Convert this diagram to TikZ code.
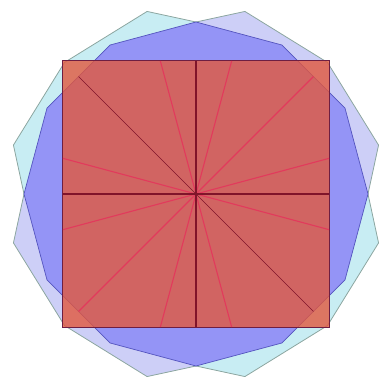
\documentclass[tikz,border=0pt]{standalone}
\usetikzlibrary{calc}
\definecolor{lavender}{RGB}{200,202,246}
\definecolor{paleCyan}{RGB}{194,235,242}
\definecolor{rimGray}{RGB}{140,166,160}
\definecolor{dodecBlue}{RGB}{148,148,246}
\definecolor{dodecRim}{RGB}{84,84,190}
\definecolor{sqRed}{RGB}{225,88,62}
\definecolor{sqRim}{RGB}{110,30,66}
\definecolor{rayPink}{RGB}{226,58,92}
\definecolor{rayDark}{RGB}{128,20,42}

\begin{document}
\begin{tikzpicture}[x=1pt, y=1pt,
    outer/.style={draw=rimGray, line width=0.8pt, fill opacity=0.9, line join=round},
    dodec/.style={fill=dodecBlue, draw=dodecRim, line width=0.7pt, line join=round},
    redsq/.style={fill=sqRed, fill opacity=0.8, draw=sqRim, line width=1pt},
    axisray/.style={draw=rayDark, line width=1.8pt},
    tiltray/.style={draw=rayPink, line width=1.1pt},
    thinray/.style={draw=rayDark, line width=0.6pt}
]
    \useasboundingbox (-196,-192) rectangle (183,194);
    \coordinate (O) at (0,0);

    % the two pale stars behind
    \draw[outer, fill=lavender] (15:189) -- (45:186) -- (75:189) -- (90:172) -- (120:160) -- (150:160)
        -- (180:172) -- (195:189) -- (225:186) -- (255:189) -- (270:172) -- (300:160) -- (330:160) -- (0:172) -- cycle;
    \draw[outer, fill=paleCyan] (105:189) -- (135:186) -- (165:189) -- (180:172) -- (210:160) -- (240:160)
        -- (270:172) -- (285:189) -- (315:186) -- (345:189) -- (0:172) -- (30:160) -- (60:160) -- (90:172) -- cycle;

    % dodecagon
    \draw[dodec] (0:172) \foreach \a in {30,60,...,330} { -- (\a:172) } -- cycle;

    % red square
    \draw[redsq] (-133,-133) rectangle (133,133);

    % rays from the centre
    \foreach \a in {15,75,105,165,195,255,285,345}
        \draw[tiltray] (O) -- (\a:137.7);
    \draw[tiltray] (O) -- (45:166);
    \draw[tiltray] (O) -- (225:166);
    \draw[thinray] (O) -- (135:166);
    \draw[thinray] (O) -- (315:166);
    \foreach \a in {0,90,180,270}
        \draw[axisray] (O) -- (\a:133);
\end{tikzpicture}
\end{document}
